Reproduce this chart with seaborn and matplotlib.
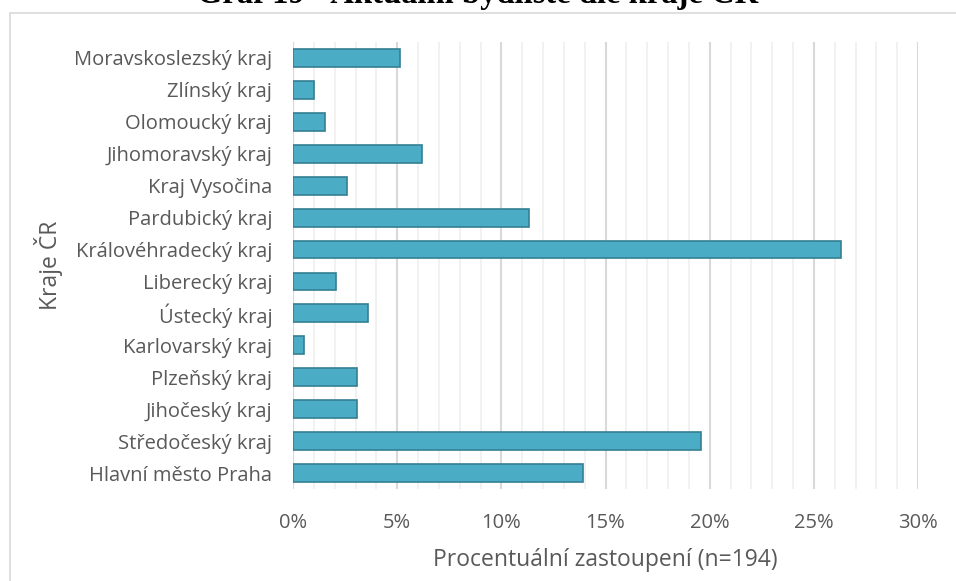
import matplotlib
matplotlib.use("Agg")
import matplotlib.pyplot as plt
import seaborn as sns
import pandas as pd
from matplotlib.ticker import MultipleLocator, PercentFormatter
from matplotlib.patches import Rectangle

# Data (counts out of n=194, top to bottom as in the chart)
regions = ["Moravskoslezský kraj", "Zlínský kraj", "Olomoucký kraj", "Jihomoravský kraj",
           "Kraj Vysočina", "Pardubický kraj", "Královéhradecký kraj", "Liberecký kraj",
           "Ústecký kraj", "Karlovarský kraj", "Plzeňský kraj", "Jihočeský kraj",
           "Středočeský kraj", "Hlavní město Praha"]
counts = [10, 2, 3, 12, 5, 22, 51, 4, 7, 1, 6, 6, 38, 27]
n_total = 194

df = pd.DataFrame({"kraj": regions, "count": counts})
df["pct"] = df["count"] / n_total * 100

sns.set_style("white")
plt.rcParams["font.family"] = ["Open Sans", "DejaVu Sans"]

fig = plt.figure(figsize=(9.56, 5.81), dpi=100)
ax = fig.add_axes([293 / 956, 1 - 489 / 581, 625 / 956, 447 / 581])

sns.barplot(data=df, x="pct", y="kraj", orient="h", order=regions,
            color="#4BACC6", saturation=1, width=0.56,
            edgecolor="#357F93", linewidth=1.2, ax=ax)

ax.set_xlim(0, 30)
ax.xaxis.set_major_locator(MultipleLocator(5))
ax.xaxis.set_minor_locator(MultipleLocator(1))
ax.xaxis.set_major_formatter(PercentFormatter(decimals=0))
ax.grid(which="major", axis="x", color="#D9D9D9", linewidth=1.5)
ax.grid(which="minor", axis="x", color="#F0F0F0", linewidth=1.3)
ax.set_axisbelow(True)
for s in ["top", "right", "bottom", "left"]:
    ax.spines[s].set_visible(False)
ax.axvline(0, color="#D9D9D9", linewidth=1.5, zorder=0)
ax.tick_params(axis="both", length=0, labelsize=14.5, labelcolor="#595959")
ax.tick_params(axis="x", pad=17)
ax.tick_params(axis="y", pad=15)

ax.set_xlabel("Procentuální zastoupení (n=194)", fontsize=16.5, color="#595959", labelpad=11)
ax.set_ylabel("Kraje ČR", fontsize=16.5, color="#595959", labelpad=8)

# chart border (partly outside the picture) and cut-off title
fig.patches.append(Rectangle((10 / 956, -0.1), 1.1, 1 - 13 / 581 + 0.1,
                             transform=fig.transFigure, fill=False,
                             edgecolor="#D9D9D9", linewidth=1.2))
fig.text(0.5, 1 - 3 / 581, "Graf 19 - Aktuální bydliště dle kraje ČR",
         ha="center", va="baseline", fontsize=23.5, fontweight="bold",
         family=["Liberation Serif", "DejaVu Serif"], color="black")

fig.savefig("out.png", dpi=100)
